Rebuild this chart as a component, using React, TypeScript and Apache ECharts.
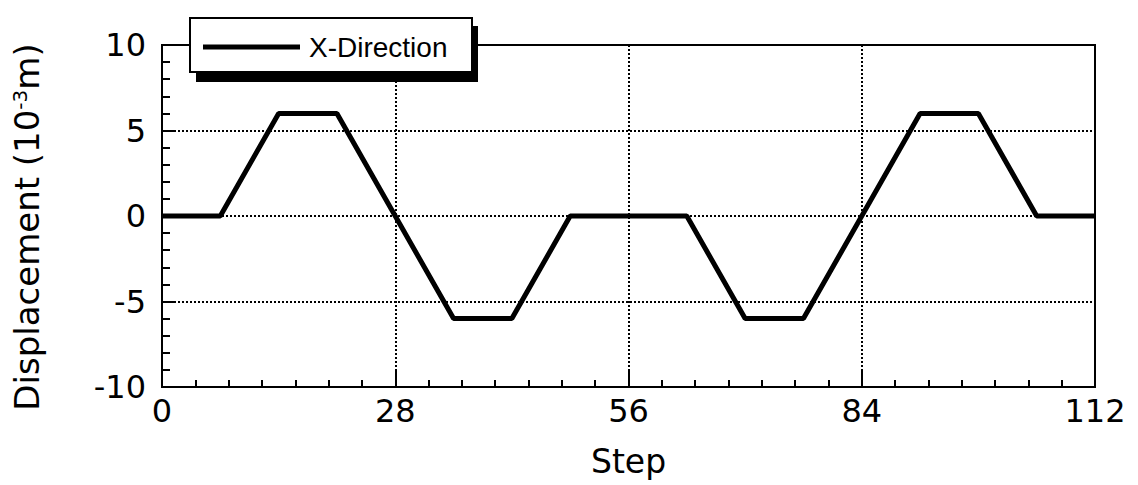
import React, { useEffect, useRef } from "react";
import * as echarts from "echarts";

const stepX = [0, 7, 14, 21, 35, 42, 49, 63, 70, 77, 91, 98, 105, 112];
const dispY = [0, 0, 6, 6, -6, -6, 0, 0, -6, -6, 6, 6, 0, 0];
const xTicks = [0, 28, 56, 84, 112];
const yTicks = [-10, -5, 0, 5, 10];
const seriesName = "X-Direction";

const FONT = "DejaVu Sans";

export default function App() {
  const ref = useRef<HTMLDivElement>(null);
  useEffect(() => {
    if (!ref.current) return;
    const chart = echarts.init(ref.current, undefined, { renderer: "svg" });
    const data = stepX.map((x, i) => [x, dispY[i]]);
    chart.setOption({
      animation: false,
      backgroundColor: "#fff",
      grid: {
        left: 162,
        right: 43,
        top: 45,
        bottom: 98,
        show: true,
        borderColor: "#000",
        borderWidth: 2,
        backgroundColor: "transparent",
      },
      xAxis: {
        type: "value",
        min: xTicks[0],
        max: xTicks[xTicks.length - 1],
        interval: 28,
        name: "Step",
        nameLocation: "middle",
        nameGap: 58,
        nameTextStyle: { fontFamily: FONT, fontSize: 33, color: "#000" },
        axisLine: { show: true, onZero: false, lineStyle: { color: "#000", width: 2 } },
        axisTick: { show: true, inside: true, length: 16, lineStyle: { color: "#000", width: 2 } },
        minorTick: { show: true, splitNumber: 7, length: 7, lineStyle: { color: "#000", width: 2 } },
        axisLabel: { fontFamily: FONT, fontSize: 32, color: "#000", margin: 8 },
        splitLine: { show: true, lineStyle: { color: "#000", width: 2, type: [2, 2] } },
      },
      yAxis: {
        type: "value",
        min: yTicks[0],
        max: yTicks[yTicks.length - 1],
        interval: 5,
        name: "Displacement (10{sup|-3}m)",
        nameLocation: "middle",
        nameGap: 118,
        nameRotate: 90,
        nameTextStyle: {
          fontFamily: FONT,
          fontSize: 34,
          color: "#000",
          padding: [0, 22, 0, 0],
          rich: {
            sup: { fontFamily: FONT, fontSize: 20, color: "#000", verticalAlign: "top", padding: [0, 0, 14, 0] },
          },
        },
        axisLine: { show: true, onZero: false, lineStyle: { color: "#000", width: 2 } },
        axisTick: { show: true, inside: true, length: 14, lineStyle: { color: "#000", width: 2 } },
        minorTick: { show: true, splitNumber: 5, length: 8, lineStyle: { color: "#000", width: 2 } },
        axisLabel: { fontFamily: FONT, fontSize: 32, color: "#000", margin: 16 },
        splitLine: { show: true, lineStyle: { color: "#000", width: 2, type: [2, 2] } },
      },
      graphic: [
        { type: "rect", z: 3, shape: { x: 196, y: 26, width: 282, height: 56 }, style: { fill: "#000" } },
        {
          type: "rect",
          z: 3,
          shape: { x: 190, y: 18, width: 282, height: 54 },
          style: { fill: "#fff", stroke: "#000", lineWidth: 2 },
        },
      ],
      legend: {
        show: true,
        left: 203,
        top: 33,
        padding: 0,
        z: 10,
        icon: "rect",
        itemWidth: 97,
        itemHeight: 5,
        data: [seriesName],
        itemStyle: { color: "#000" },
        textStyle: { fontFamily: "Liberation Sans", fontSize: 28, color: "#000", padding: [0, 0, 0, 4] },
      },
      series: [
        {
          name: seriesName,
          type: "line",
          data,
          symbol: "none",
          lineStyle: { color: "#000", width: 5 },
          itemStyle: { color: "#000" },
          z: 5,
        },
      ],
    });
    return () => chart.dispose();
  }, []);
  return <div ref={ref} style={{ width: 1138, height: 485, position: "absolute", left: 0, top: 0 }} />;
}
